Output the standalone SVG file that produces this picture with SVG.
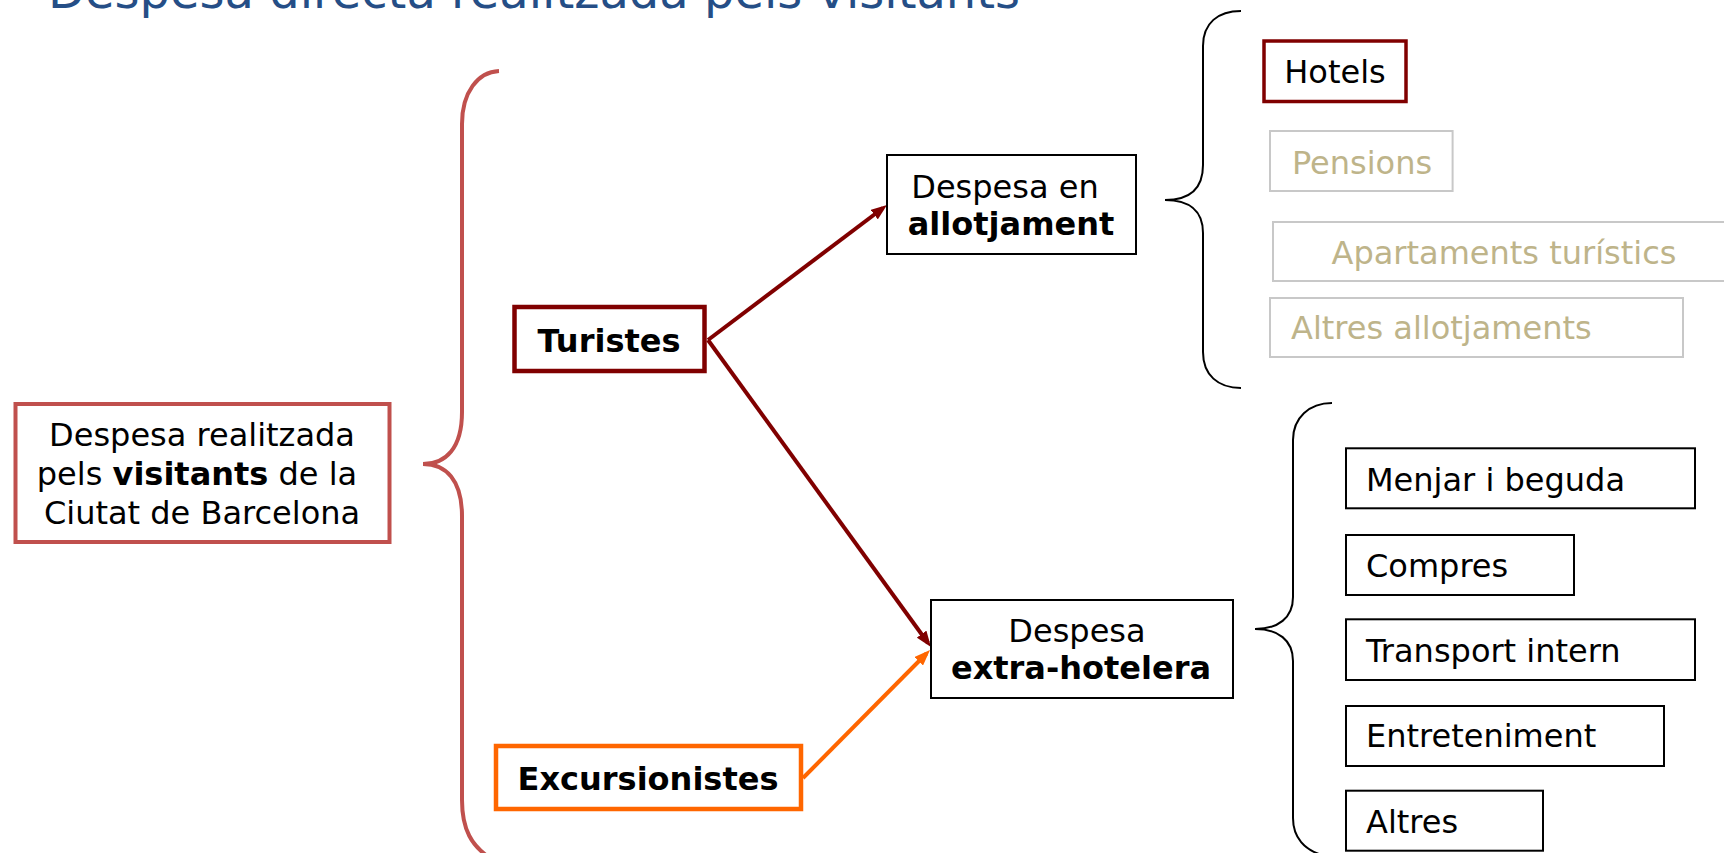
<svg xmlns="http://www.w3.org/2000/svg" width="1724" height="853" viewBox="0 0 1724 853">
<defs>
<style>
text{font-family:"DejaVu Sans","Liberation Sans",sans-serif;font-size:32px;fill:#000}
.b{font-weight:bold}
.m{text-anchor:middle}
.g{fill:#BEB48A}
.box{fill:#fff;stroke:#000;stroke-width:2}
.gbox{fill:#fff;stroke:#C8C8C8;stroke-width:2}
.brace{fill:none;stroke:#000;stroke-width:2}
</style>
<marker id="ah" markerUnits="userSpaceOnUse" markerWidth="16" markerHeight="12" viewBox="0 0 16 12" refX="11" refY="6" orient="auto">
<path d="M0,0 L16,6 L0,12 z" fill="#800000"/>
</marker>
<marker id="aho" markerUnits="userSpaceOnUse" markerWidth="16" markerHeight="12" viewBox="0 0 16 12" refX="11" refY="6" orient="auto">
<path d="M0,0 L16,6 L0,12 z" fill="#FF6600"/>
</marker>
</defs>
<rect width="1724" height="853" fill="#fff"/>
<text id="title" x="48" y="8" style="font-size:48px;fill:#254E86">Despesa directa realitzada pels visitants</text>

<g id="braces">
<path d="M499,71 C478,72 462,92 462,124 L462,412 C462,448 446,464 423,464 C446,464 462,480 462,516 L462,800 C462,830 472,846 490,858" fill="none" stroke="#C0504D" stroke-width="4"/>
<path class="brace" d="M1241,11 C1218,11 1203,23 1203,46 L1203,165 C1203,190 1188,200 1165,200 C1188,200 1203,210 1203,233 L1203,352 C1203,375 1218,388 1241,388"/>
<path class="brace" d="M1332,403 C1309,403 1293,418 1293,440 L1293,597 C1293,618 1278,629 1255,629 C1278,629 1293,640 1293,661 L1293,818 C1293,838 1305,850 1322,855"/>
</g>

<g id="connectors">
<line x1="708" y1="340" x2="883" y2="208" stroke="#800000" stroke-width="4" marker-end="url(#ah)"/>
<line x1="708" y1="340" x2="928" y2="643" stroke="#800000" stroke-width="4" marker-end="url(#ah)"/>
<line x1="803" y1="778" x2="926.5" y2="653.5" stroke="#FF6600" stroke-width="4" marker-end="url(#aho)"/>
</g>

<g id="visitants">
<rect x="15.5" y="404" width="374" height="138" fill="#fff" stroke="#C0504D" stroke-width="4"/>
<text class="m" x="202" y="446">Despesa realitzada</text>
<text class="m" x="197" y="485">pels <tspan class="b">visitants</tspan> de la</text>
<text class="m" x="202" y="524">Ciutat de Barcelona</text>
</g>

<g id="turistes">
<rect x="514.5" y="307" width="190" height="64" fill="#fff" stroke="#800000" stroke-width="4.5"/>
<text class="m b" x="609" y="352">Turistes</text>
</g>

<g id="excursionistes">
<rect x="496" y="746" width="305" height="63" fill="#fff" stroke="#FF6600" stroke-width="4.5"/>
<text class="m b" x="648" y="790">Excursionistes</text>
</g>

<g id="allotjament">
<rect class="box" x="887" y="155" width="249" height="99"/>
<text class="m" x="1005" y="198">Despesa en</text>
<text class="m b" x="1011" y="235">allotjament</text>
</g>

<g id="extrahotelera">
<rect class="box" x="931" y="600" width="302" height="98"/>
<text class="m" x="1077" y="642">Despesa</text>
<text class="m b" x="1081" y="679">extra-hotelera</text>
</g>

<g id="hotels">
<rect x="1264" y="41" width="142" height="60.5" fill="#fff" stroke="#800000" stroke-width="3.5"/>
<text class="m" x="1335" y="83">Hotels</text>
</g>
<g id="pensions">
<rect class="gbox" x="1270" y="131" width="182.6" height="60"/>
<text class="m g" x="1362" y="174">Pensions</text>
</g>
<g id="apartaments">
<rect class="gbox" x="1273" y="222" width="470" height="59"/>
<text class="m g" x="1504" y="264">Apartaments turístics</text>
</g>
<g id="altresallot">
<rect class="gbox" x="1270" y="298" width="413" height="59"/>
<text class="g" x="1291" y="339">Altres allotjaments</text>
</g>

<g id="menjar">
<rect class="box" x="1346" y="448.3" width="349" height="60"/>
<text x="1366" y="491">Menjar i beguda</text>
</g>
<g id="compres">
<rect class="box" x="1346" y="535" width="228" height="60"/>
<text x="1366" y="577">Compres</text>
</g>
<g id="transport">
<rect class="box" x="1346" y="619.3" width="349" height="60.7"/>
<text x="1366" y="662">Transport intern</text>
</g>
<g id="entreteniment">
<rect class="box" x="1346" y="706" width="318" height="60"/>
<text x="1366" y="747">Entreteniment</text>
</g>
<g id="altres">
<rect class="box" x="1346" y="790.7" width="197" height="60"/>
<text x="1366" y="833">Altres</text>
</g>
</svg>
